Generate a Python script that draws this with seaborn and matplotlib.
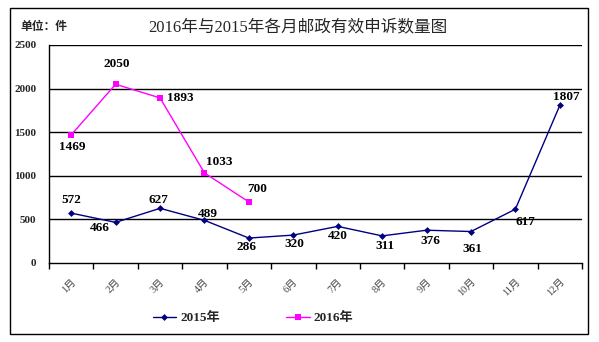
import matplotlib
matplotlib.use("Agg")
import matplotlib.pyplot as plt
from matplotlib.patches import Rectangle
from matplotlib.lines import Line2D
import seaborn as sns
import pandas as pd

months = ["1月", "2月", "3月", "4月", "5月", "6月", "7月", "8月", "9月", "10月", "11月", "12月"]
values_2015 = [572, 466, 627, 489, 286, 320, 420, 311, 376, 361, 617, 1807]
values_2016 = [1469, 2050, 1893, 1033, 700]
series_names = ["2015年", "2016年"]
title = "2016年与2015年各月邮政有效申诉数量图"
unit_label = "单位：件"

# label offsets in pixels (dx, dy) for each point's value label
offs_2015 = [(0, 13), (-16, -6), (-2, 8), (3, 6), (-2, -9), (1, -9), (0, -10),
             (3, -10), (4, -11), (1, -17), (10, -13), (7, 8)]
offs_2016 = [(1, -12), (1, 20), (20, 0), (15, 11), (8, 13)]

sns.set_theme(style="white")
FAM = ["Liberation Serif", "Noto Sans CJK SC"]
plt.rcParams["font.family"] = FAM

df = pd.DataFrame({
    "month": months + months[:len(values_2016)],
    "count": values_2015 + values_2016,
    "year": [series_names[0]] * len(values_2015) + [series_names[1]] * len(values_2016),
})

W, H = 599, 342
fig = plt.figure(figsize=(W / 100, H / 100), dpi=100)
fig.patch.set_facecolor("white")
ax = fig.add_axes([49 / W, 1 - 263 / H, (582 - 49) / W, (263 - 45) / H])

colors = {"2015年": "#000080", "2016年": "#FF00FF"}
markers = {"2015年": "D", "2016年": "s"}
sizes = {"2015年": 3.5, "2016年": 4.5}
for name in series_names:
    sub = df[df["year"] == name]
    sns.lineplot(data=sub, x="month", y="count", ax=ax, color=colors[name],
                 marker=markers[name], markersize=sizes[name], markeredgewidth=0,
                 linewidth=1.0, sort=False, legend=False)

ax.set_xlim(-0.5, 11.5)
ax.set_ylim(0, 2500)
ax.set_xlabel("")
ax.set_ylabel("")

# grid lines
ax.set_yticks([0, 500, 1000, 1500, 2000, 2500])
for yv in [500, 1000, 1500, 2000, 2500]:
    ax.axhline(yv, color="black", lw=1.0, zorder=0)
ax.tick_params(axis="y", length=0, pad=9)
for lbl in ax.get_yticklabels():
    lbl.set_fontsize(8)
    lbl.set_fontweight("bold")
    lbl.set_family(FAM)

# x ticks: marks at category boundaries, labels at category centres
ax.set_xticks(range(len(months)))
ax.set_xticklabels(months, rotation=45, ha="right", va="top",
                   rotation_mode="anchor", fontsize=7.5, color="#444444")
ax.tick_params(axis="x", which="major", length=0, pad=10)
ax.set_xticks([i - 0.5 for i in range(len(months) + 1)], minor=True)
ax.tick_params(axis="x", which="minor", length=4, width=1, color="black",
               direction="out", bottom=True)

for side in ["top", "right"]:
    ax.spines[side].set_visible(False)
for side in ["left", "bottom"]:
    ax.spines[side].set_color("black")
    ax.spines[side].set_linewidth(1.0)

# value labels
for vals, offs in [(values_2015, offs_2015), (values_2016, offs_2016)]:
    for i, (v, (dx, dy)) in enumerate(zip(vals, offs)):
        ax.annotate(str(v), (i, v), xytext=(dx, dy), textcoords="offset pixels",
                    ha="center", va="center", fontsize=9.5, fontweight="bold",
                    family=FAM, color="black")

fig.text(298 / W, 1 - 27 / H, title, ha="center", va="center", fontsize=12,
         fontweight="medium", family=FAM)
fig.text(20 / W, 1 - 27 / H, unit_label, ha="left", va="center", fontsize=8.5,
         fontweight="bold", family=FAM)

handles = [Line2D([0], [0], color=colors[n], marker=markers[n],
                  markersize=sizes[n], markeredgewidth=0, lw=1.0)
           for n in series_names]
leg = fig.legend(handles, series_names, loc="center", bbox_to_anchor=(253 / W, 1 - 318 / H),
                 ncol=2, frameon=False, handlelength=1.8, handletextpad=0.3,
                 columnspacing=5.0, prop={"family": FAM, "size": 9.5, "weight": "bold"})

fig.patches.append(Rectangle((10 / W, 1 - 334 / H), (588 - 10) / W, (334 - 8) / H,
                             transform=fig.transFigure, fill=False,
                             edgecolor="black", lw=1.0))

fig.savefig("out.png", dpi=100)
